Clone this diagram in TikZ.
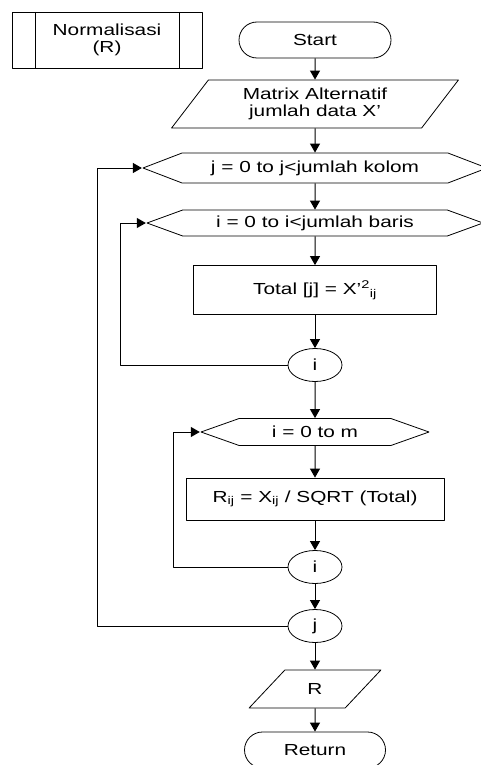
\documentclass[tikz,border=0pt]{standalone}
\usepackage{fontspec}
\setmainfont{Liberation Sans}[FakeStretch=1.3]
\usetikzlibrary{arrows.meta,shapes.geometric,shapes.misc,shapes.symbols}

\begin{document}
\begin{tikzpicture}[x=1pt,y=-1pt,>={Triangle[width=10pt,length=9pt]},line join=round,
  font=\fontsize{16}{17}\selectfont,
  base/.style={draw,line width=0.8pt,align=center,inner sep=0pt},
  terminal/.style={base,rounded rectangle},
  process/.style={base,rectangle},
  pproc/.style={base,rectangle,minimum width=190pt,minimum height=56pt,
    path picture={\draw[line width=0.8pt]
      ([xshift=23pt]path picture bounding box.north west) -- ([xshift=23pt]path picture bounding box.south west)
      ([xshift=-23pt]path picture bounding box.north east) -- ([xshift=-23pt]path picture bounding box.south east);}},
  io/.style={base,trapezium,trapezium stretches=true,trapezium left angle=#1,trapezium right angle=180-#1},
  loophex/.style={base,signal,signal to=west and east,signal pointer angle=#1},
  conn/.style={base,ellipse,minimum width=54pt,minimum height=33pt},
  flow/.style={->,line width=1pt}]
  \useasboundingbox (0,0) rectangle (480,765);
  % x positions of the loop-back lines
  \coordinate (KJ) at (97,0);
  \coordinate (KI) at (120,0);
  \coordinate (KM) at (173,0);
  \node[pproc] (NP) at (107,40) {Normalisasi\\(R)};
  \node[terminal,minimum width=152pt,minimum height=36pt] (ST) at (315,40) {Start};
  \node[io=52,minimum width=287pt,minimum height=48pt] (IN) at (315,104) {Matrix Alternatif\\jumlah data X’};
  \node[loophex=42,minimum width=344pt,minimum height=30pt] (HJ) at (315,168) {j = 0 to j<jumlah kolom};
  \node[loophex=40,minimum width=336pt,minimum height=26pt] (HI) at (315,223) {i = 0 to i<jumlah baris};
  \node[process,minimum width=243pt,minimum height=49pt] (TOT) at (315,290) {Total [j] = X’\textsuperscript{2}\textsubscript{ij}};
  \node[conn] (CI1) at (315,365) {i};
  \node[loophex=39,minimum width=228pt,minimum height=27pt] (HM) at (315,432) {i = 0 to m};
  \node[process,minimum width=258pt,minimum height=42pt] (RIJ) at (315,499) {R\textsubscript{ij} = X\textsubscript{ij} / SQRT (Total)};
  \node[conn] (CI2) at (315,567) {i};
  \node[conn] (CJ) at (315,626) {j};
  \node[io=51,minimum width=132pt,minimum height=38pt] (OUT) at (315,689) {R};
  \node[terminal,minimum width=141pt,minimum height=36pt] (RET) at (315,750) {Return};
  % main flow
  \draw[flow] (ST) -- (IN);
  \draw[flow] (IN) -- (HJ);
  \draw[flow] (HJ) -- (HI);
  \draw[flow] (HI) -- (TOT);
  \draw[flow] (TOT) -- (CI1);
  \draw[flow] (CI1) -- (HM);
  \draw[flow] (HM) -- (RIJ);
  \draw[flow] (RIJ) -- (CI2);
  \draw[flow] (CI2) -- (CJ);
  \draw[flow] (CJ) -- (OUT);
  \draw[flow] (OUT) -- (RET);
  % loops back to their headers
  \draw[flow] (CI1.west) -- (CI1.west -| KI) |- (HI.west);
  \draw[flow] (CI2.west) -- (CI2.west -| KM) |- (HM.west);
  \draw[flow] (CJ.west) -- (CJ.west -| KJ) |- (HJ.west);
\end{tikzpicture}
\end{document}
